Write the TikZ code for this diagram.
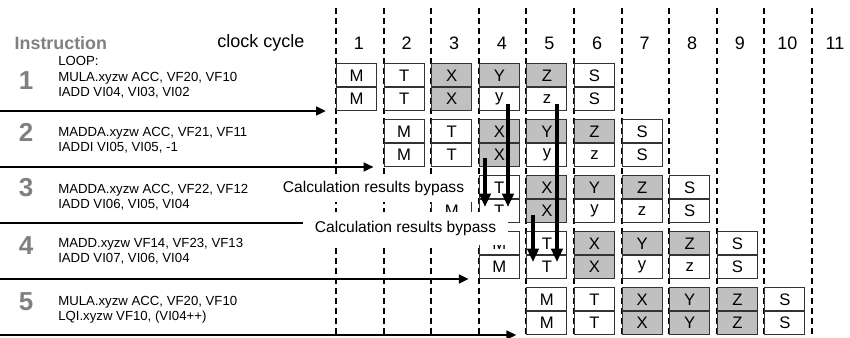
\documentclass[tikz,border=0pt]{standalone}
\usepackage{fontspec}
\setmainfont{Liberation Sans}
\usetikzlibrary{arrows.meta}
\definecolor{headgray}{HTML}{808080}
\definecolor{stagegray}{HTML}{C0C0C0}

\begin{document}
\begin{tikzpicture}[x=0.75pt,y=-0.75pt,
  cycleline/.style={line width=1.6pt, dash pattern=on 4.5pt off 3pt},
  stage/.style={draw=black!80, line width=0.8pt, minimum width=30pt,
    minimum height=17.625pt, inner sep=0pt, anchor=north west,
    font=\fontsize{12.5}{14}\selectfont},
  issue/.style={line width=1.9pt, -{Triangle[width=6.5pt,length=7.5pt]}},
  bypass/.style={line width=3pt, -{Triangle[width=8.5pt,length=10pt]}},
  note/.style={fill=white, inner sep=0pt, font=\fontsize{11.7}{14}\selectfont},
  instr/.style={anchor=west, align=left, inner sep=0pt,
    font=\fontsize{9.9}{11.6}\selectfont},
  head/.style={font=\fontsize{13.5}{16}\selectfont},
  num/.style={font=\bfseries\fontsize{19.5}{22}\selectfont, text=headgray}]

\useasboundingbox (0,0) rectangle (850,338);

% clock-cycle grid
\foreach \k in {1,...,11} {
  \pgfmathsetmacro{\cx}{336+47.6*(\k-1)}
  \coordinate (gt\k) at (\cx,8);
  \coordinate (gb\k) at (\cx,338);
  \draw[cycleline] (gt\k) -- (gb\k);
  \node[head] (cyc\k) at (\cx+23,43) {\k};
}

% headings
\node[head, font=\bfseries\fontsize{13.4}{16}\selectfont, text=headgray, anchor=west] (hinstr) at (10,43) {Instruction};
\node[head] (hclock) at (261,43) {clock cycle};

% pipeline stages: upper and lower unit per instruction
\foreach \r in {1,...,5} {
  \foreach \s/\up/\lo in {0/M/M,1/T/T,2/X/X,3/Y/y,4/Z/z,5/S/S} {
    \pgfmathsetmacro{\bx}{336+47.6*(\r+\s-1)}
    \pgfmathsetmacro{\by}{63+56*(\r-1)}
    \pgfmathtruncatemacro{\hotup}{(\s>1)&&(\s<5)}
    \pgfmathtruncatemacro{\hotlo}{(\s==2)||((\r==5)&&(\s>1)&&(\s<5))}
    \pgfmathtruncatemacro{\covered}{(\r==3)&&(\s==0)}
    \def\fillup{white}\ifnum\hotup=1 \def\fillup{stagegray}\fi
    \def\filllo{white}\ifnum\hotlo=1 \def\filllo{stagegray}\fi
    \node[stage, fill=\fillup] (u\r\s) at (\bx,\by) {\ifnum\covered=1 \else\up\fi};
    \node[stage, fill=\filllo] (l\r\s) at (\bx,\by+23.5) {\ifnum\r=5 \up\else\lo\fi};
  }
}

% instruction numbers and code
\node[num] (n1) at (26,81) {1};
\node[num] (n2) at (26,132) {2};
\node[num] (n3) at (26,188) {3};
\node[num] (n4) at (26,246) {4};
\node[num] (n5) at (26,302) {5};

\node[instr] (c1) at (58,77.5) {LOOP:\\MULA.xyzw ACC, VF20, VF10\\IADD VI04, VI03, VI02};
\node[instr] (c2) at (58,140) {MADDA.xyzw ACC, VF21, VF11\\IADDI VI05, VI05, -1};
\node[instr] (c3) at (58,197.5) {MADDA.xyzw ACC, VF22, VF12\\IADD VI06, VI05, VI04};
\node[instr] (c4) at (58,251.5) {MADD.xyzw VF14, VF23, VF13\\IADD VI07, VI06, VI04};
\node[instr] (c5) at (58,309.5) {MULA.xyzw ACC, VF20, VF10\\LQI.xyzw VF10, (VI04++)};

% issue arrows
\foreach \r in {1,...,5} {
  \pgfmathsetmacro{\ay}{111+56*(\r-1)}
  \pgfmathsetmacro{\ax}{326+47.6*(\r-1)}
  \coordinate (is\r) at (0,\ay);
  \coordinate (ie\r) at (\ax,\ay);
  \draw[issue] (is\r) -- (ie\r);
}

% result bypass paths
\coordinate (bpa0) at (508,104);  \coordinate (bpa1) at (508,207);
\coordinate (bpb0) at (485,158);  \coordinate (bpb1) at (485,207);
\coordinate (bpc0) at (557,104);  \coordinate (bpc1) at (557,262);
\coordinate (bpd0) at (533,215);  \coordinate (bpd1) at (533,262);
\draw[bypass] (bpa0) -- (bpa1);
\draw[bypass] (bpb0) -- (bpb1);
\draw[bypass] (bpc0) -- (bpc1);
\draw[bypass] (bpd0) -- (bpd1);

\node[note, minimum width=153.75pt, minimum height=21pt] (note1) at (373.5,188) {Calculation results bypass};
\node[note, minimum width=153.75pt, minimum height=24.75pt] (note2) at (405.5,228.5) {Calculation results bypass};

\end{tikzpicture}
\end{document}
